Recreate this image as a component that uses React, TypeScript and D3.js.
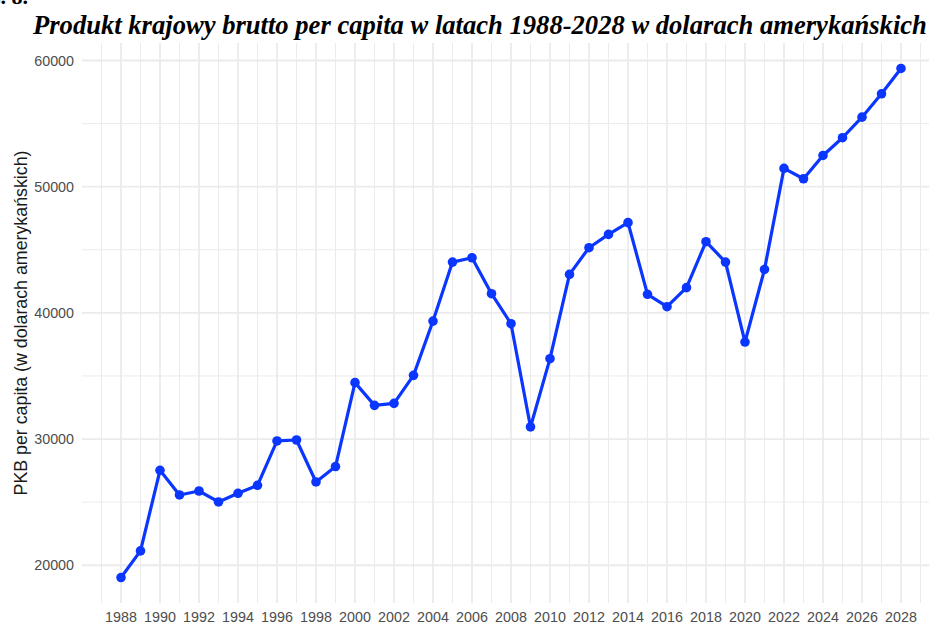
import React from "react";
import * as d3 from "d3";

const years: number[] = [
  1988, 1989, 1990, 1991, 1992, 1993, 1994, 1995, 1996, 1997,
  1998, 1999, 2000, 2001, 2002, 2003, 2004, 2005, 2006, 2007,
  2008, 2009, 2010, 2011, 2012, 2013, 2014, 2015, 2016, 2017,
  2018, 2019, 2020, 2021, 2022, 2023, 2024, 2025, 2026, 2027, 2028,
];
const gdpValues: number[] = [
  19025, 21135, 27525, 25570, 25885, 25015, 25700, 26335, 29850, 29925,
  26600, 27820, 34470, 32670, 32830, 35050, 39350, 44025, 44370, 41520,
  39140, 30960, 36370, 43050, 45165, 46220, 47150, 41470, 40490, 42000,
  45640, 44025, 37690, 43445, 51450, 50630, 52475, 53880, 55510, 57360, 59370,
];
const xTickLabels: string[] = [
  "1988", "1990", "1992", "1994", "1996", "1998", "2000", "2002", "2004", "2006",
  "2008", "2010", "2012", "2014", "2016", "2018", "2020", "2022", "2024", "2026", "2028",
];
const yTickValues: number[] = [20000, 30000, 40000, 50000, 60000];
const yMinorValues: number[] = [25000, 35000, 45000, 55000];
const titleText = "Produkt krajowy brutto per capita w latach 1988-2028 w dolarach amerykańskich";
const yAxisTitle = "PKB per capita (w dolarach amerykańskich)";
const figLabel = "Rys. 8.";

const W = 929;
const H = 623;
const panel = { left: 82, right: 940, top: 43, bottom: 603 };

export default function App() {
  const x = d3.scaleLinear().domain([1986, 2030]).range([panel.left, panel.right]);
  const [mn, mx] = d3.extent(gdpValues) as [number, number];
  const pad = (mx - mn) * 0.05;
  const y = d3.scaleLinear().domain([mn - pad, mx + pad]).range([panel.bottom, panel.top]);

  const data = years.map((yr, i) => ({ yr, v: gdpValues[i] }));
  const line = d3
    .line<{ yr: number; v: number }>()
    .x((d) => x(d.yr))
    .y((d) => y(d.v));

  const majorX = xTickLabels.map((s) => +s);
  const minorX = d3.range(1987, 2030, 2);

  const gridColor = "#ebebeb";
  const tickColor = "#4d4d4d";
  const blue = "#0a36ff";
  const sans = "'Liberation Sans', Arial, Helvetica, sans-serif";

  return (
    <svg
      width={W}
      height={H}
      style={{ position: "absolute", left: 0, top: 0, background: "#fff" }}
    >
      <rect x={0} y={0} width={W} height={H} fill="#fff" />
      {/* grid */}
      <g>
        {yMinorValues.map((v) => (
          <line key={"ym" + v} x1={panel.left} x2={panel.right} y1={y(v)} y2={y(v)} stroke={gridColor} strokeWidth={1} />
        ))}
        {minorX.map((v) => (
          <line key={"xm" + v} x1={x(v)} x2={x(v)} y1={panel.top} y2={panel.bottom} stroke={gridColor} strokeWidth={1} />
        ))}
        {yTickValues.map((v) => (
          <line key={"yM" + v} x1={panel.left} x2={panel.right} y1={y(v)} y2={y(v)} stroke={gridColor} strokeWidth={1.8} />
        ))}
        {majorX.map((v) => (
          <line key={"xM" + v} x1={x(v)} x2={x(v)} y1={panel.top} y2={panel.bottom} stroke={gridColor} strokeWidth={1.8} />
        ))}
      </g>
      {/* line + points */}
      <path d={line(data) || ""} fill="none" stroke={blue} strokeWidth={3.2} strokeLinejoin="round" strokeLinecap="round" />
      {data.map((d) => (
        <circle key={d.yr} cx={x(d.yr)} cy={y(d.v)} r={4.8} fill={blue} />
      ))}
      {/* y tick labels */}
      {yTickValues.map((v) => (
        <text key={"yl" + v} x={74} y={y(v)} dy="0.36em" textAnchor="end" fontFamily={sans} fontSize={14.3} fill={tickColor}>
          {v}
        </text>
      ))}
      {/* x tick labels */}
      {xTickLabels.map((s) => (
        <text key={"xl" + s} x={x(+s)} y={621.5} textAnchor="middle" fontFamily={sans} fontSize={14.3} fill={tickColor}>
          {s}
        </text>
      ))}
      {/* y axis title */}
      <text
        transform={`translate(27, ${(panel.top + panel.bottom) / 2}) rotate(-90)`}
        textAnchor="middle"
        fontFamily={sans}
        fontSize={17.8}
        fill="#1a1a1a"
      >
        {yAxisTitle}
      </text>
      {/* title */}
      <text x={33} y={34} fontFamily="'Liberation Serif', 'Times New Roman', serif" fontWeight="bold" fontStyle="italic" fontSize={26.6} fill="#000">
        {titleText}
      </text>
      <text x={28} y={4} textAnchor="end" fontFamily="'Liberation Serif', 'Times New Roman', serif" fontWeight="bold" fontSize={22} fill="#000">
        {figLabel}
      </text>
    </svg>
  );
}
